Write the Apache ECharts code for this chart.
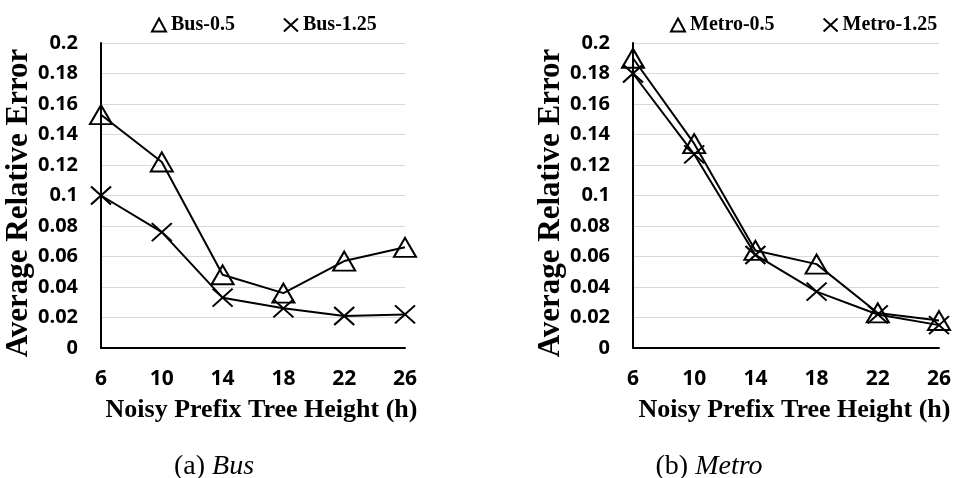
<!DOCTYPE html>
<html>
<head>
<meta charset="utf-8">
<script src="https://cdn.jsdelivr.net/npm/echarts@6/dist/echarts.min.js"></script>
<style>
html,body{margin:0;padding:0;background:#fff;}
#c{width:956px;height:478px;}
</style>
</head>
<body>
<div id="c"></div>
<script>
var categories = ['6', '10', '14', '18', '22', '26'];
var bus05 = [0.153, 0.122, 0.048, 0.036, 0.057, 0.066];
var bus125 = [0.100, 0.076, 0.033, 0.026, 0.021, 0.022];
var metro05 = [0.190, 0.134, 0.064, 0.055, 0.023, 0.018];
var metro125 = [0.180, 0.127, 0.061, 0.037, 0.022, 0.015];
var yTicks = [0, 0.2, 0.02];
var xTitle = 'Noisy Prefix Tree Height (h)';
var yTitle = 'Average Relative Error';

var chart = echarts.init(document.getElementById('c'), null, {renderer: 'canvas'});
var serif = 'Liberation Serif, Times New Roman, serif';
var sans = 'Open Sans, Liberation Sans, sans-serif';
var TRI = 'triangle';
var XPATH = 'path://M0,0L10,10M10,0L0,10';
var LEG_TRI = 'path://M6,0L12,11L0,11Z';
var LEG_X = 'path://M0,0L12,11M12,0L0,11';

function xAxis(gi) {
  return {
    type: 'category', gridIndex: gi, data: categories, boundaryGap: false,
    axisLine: {lineStyle: {color: '#000', width: 2}},
    axisTick: {show: false},
    axisLabel: {color: '#000', fontFamily: sans, fontWeight: 'bold', fontSize: 21, margin: 21},
    name: xTitle, nameLocation: 'middle', nameGap: 49,
    nameTextStyle: {color: '#000', fontFamily: serif, fontWeight: 'bold', fontSize: 26, padding: [0, 0, 0, 17]}
  };
}
function yAxis(gi) {
  return {
    type: 'value', gridIndex: gi, min: yTicks[0], max: yTicks[1], interval: yTicks[2],
    axisLine: {show: true, lineStyle: {color: '#000', width: 2}},
    axisTick: {show: false},
    splitLine: {lineStyle: {color: '#d9d9d9', width: 1}},
    axisLabel: {color: '#000', fontFamily: sans, fontWeight: 'bold', fontSize: 20, margin: 23},
    name: yTitle, nameLocation: 'middle', nameGap: 67,
    nameTextStyle: {color: '#000', fontFamily: serif, fontWeight: 'bold', fontSize: 31, padding: [0, 15, 0, 0]}
  };
}
function series(name, data, gi, sym, size) {
  return {
    name: name, type: 'line', xAxisIndex: gi, yAxisIndex: gi, data: data,
    symbol: sym, symbolSize: size, showAllSymbol: true,
    lineStyle: {color: '#000', width: 2},
    itemStyle: {color: 'rgba(0,0,0,0)', borderColor: '#000', borderWidth: 2},
    emphasis: {disabled: true},
    animation: false
  };
}
function legend(left, n1, n2) {
  return {
    left: left, top: 10, itemWidth: 14, itemHeight: 13, itemGap: 48,
    data: [{name: n1, icon: LEG_TRI}, {name: n2, icon: LEG_X}],
    itemStyle: {color: 'rgba(0,0,0,0)', borderColor: '#000', borderWidth: 2},
    textStyle: {color: '#000', fontFamily: serif, fontWeight: 'bold', fontSize: 20},
    selectedMode: false
  };
}
var capStyle = {rich: {
  n: {fontFamily: serif, fontSize: 28, fontWeight: 'normal', color: '#000'},
  i: {fontFamily: serif, fontSize: 28, fontWeight: 'normal', fontStyle: 'italic', color: '#000'}
}};

chart.setOption({
  animation: false,
  grid: [
    {left: 101, top: 43, width: 304, height: 305},
    {left: 633, top: 43, width: 306, height: 305}
  ],
  legend: [legend(146, 'Bus-0.5', 'Bus-1.25'), legend(665, 'Metro-0.5', 'Metro-1.25')],
  title: [
    {text: '{n|(a) }{i|Bus}', left: 209, top: 448, textAlign: 'center', textStyle: capStyle},
    {text: '{n|(b) }{i|Metro}', left: 704, top: 448, textAlign: 'center', textStyle: capStyle}
  ],
  xAxis: [xAxis(0), xAxis(1)],
  yAxis: [yAxis(0), yAxis(1)],
  series: [
    series('Bus-0.5', bus05, 0, TRI, [22, 19]),
    series('Bus-1.25', bus125, 0, XPATH, [20, 18]),
    series('Metro-0.5', metro05, 1, TRI, [22, 19]),
    series('Metro-1.25', metro125, 1, XPATH, [20, 18])
  ]
});
</script>
</body>
</html>
